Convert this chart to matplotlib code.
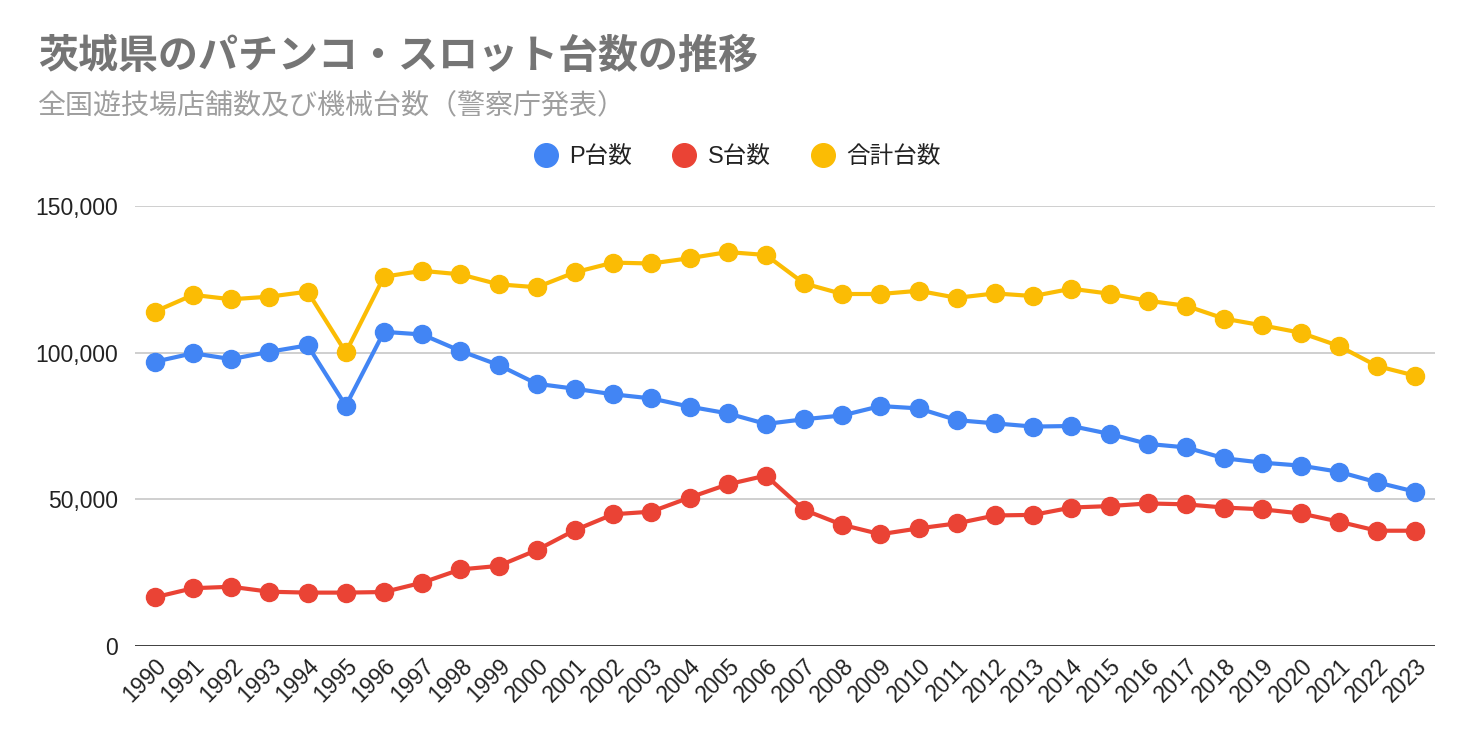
import matplotlib
matplotlib.use('Agg')
import matplotlib.pyplot as plt
from matplotlib.lines import Line2D
from matplotlib.ticker import FuncFormatter

plt.rcParams['font.family'] = ['Liberation Sans', 'Noto Sans CJK JP', 'DejaVu Sans']

# Datos
years = list(range(1990, 2024))
p_units = [96900, 99800, 97800, 100300, 102500, 81900, 107100, 106200, 100600, 95800,
           89400, 87700, 85800, 84400, 81600, 79300, 75700, 77300, 78600, 81800,
           81000, 77000, 75900, 74800, 75000, 72300, 68900, 67700, 64000, 62500,
           61500, 59400, 55800, 52600]
s_units = [16600, 19700, 20200, 18500, 18200, 18200, 18400, 21600, 26100, 27300,
           32700, 39500, 44900, 45800, 50600, 55100, 58100, 46400, 41300, 38100,
           40100, 41800, 44500, 44700, 47200, 47700, 48600, 48300, 47200, 46600,
           45200, 42400, 39300, 39300]
total_units = [114000, 119700, 118200, 119100, 120800, 100100, 125900, 127900, 126700, 123300,
               122300, 127400, 130700, 130400, 132200, 134300, 133300, 123600, 120000, 120000,
               121100, 118700, 120200, 119300, 121800, 120100, 117700, 116000, 111600, 109300,
               106800, 102300, 95450, 92150]
series_names = ['P台数', 'S台数', '合計台数']
colors = ['#4285F4', '#EA4335', '#FBBC04']

fig = plt.figure(figsize=(14.72, 7.42), dpi=100)
ax = fig.add_axes([135 / 1472, 1 - 646 / 742, 1300 / 1472, 440 / 742])

x = list(range(len(years)))
for vals, c in zip([p_units, s_units, total_units], colors):
    ax.plot(x, vals, color=c, lw=3, marker='o', markersize=13, solid_capstyle='round', zorder=3)

ax.set_xlim(-0.52, len(years) - 1 + 0.52)
ax.set_ylim(0, 150000)
ax.set_yticks([0, 50000, 100000, 150000])
ax.yaxis.set_major_formatter(FuncFormatter(lambda v, p: f'{int(v):,}'))
ax.set_xticks(x)
ax.set_xticklabels([str(y) for y in years], rotation=45, ha='right', rotation_mode='anchor')
ax.grid(axis='y', color='#cccccc', lw=1.3, zorder=0)
ax.axhline(0, color='#333333', lw=2, zorder=2)
for s in ax.spines.values():
    s.set_visible(False)
ax.tick_params(axis='both', length=0, labelsize=16.5, colors='#222222')
ax.tick_params(axis='y', pad=12)
ax.tick_params(axis='x', pad=6)

# Titulo y subtitulo
fig.text(38 / 1472, 1 - 56 / 742, '茨城県のパチンコ・スロット台数の推移', fontsize=28.8, fontweight='bold',
         color='#757575', va='center', ha='left', family=['Noto Sans CJK JP', 'DejaVu Sans'])
fig.text(38 / 1472, 1 - 105 / 742, '全国遊技場店舗数及び機械台数（警察庁発表）', fontsize=20.2,
         color='#9e9e9e', va='center', ha='left', family=['Noto Sans CJK JP', 'DejaVu Sans'])

# Leyenda
handles = [Line2D([], [], ls='none', marker='o', markersize=17, color=c) for c in colors]
fig.legend(handles, series_names, loc='center', bbox_to_anchor=(0.5, 1 - 157 / 742), ncol=3,
           frameon=False, fontsize=17, handletextpad=0.4, columnspacing=1.6, handlelength=1.2,
           labelcolor='#222222')

plt.savefig('out.png', dpi=100)
plt.close()
